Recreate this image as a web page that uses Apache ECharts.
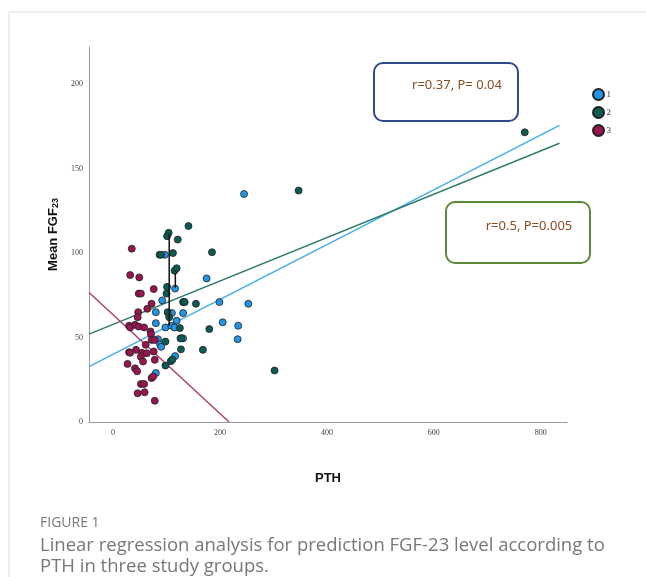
<!DOCTYPE html>
<html>
<head>
<meta charset="utf-8">
<script src="https://cdn.jsdelivr.net/npm/echarts@6/dist/echarts.min.js"></script>
<style>
  html, body { margin: 0; padding: 0; background: #fff; }
  #main { width: 646px; height: 577px; }
</style>
</head>
<body>
<div id="main"></div>
<script>
// group 1 (blue)
var g1X = [245, 175, 97, 116, 92, 80, 80, 98, 109, 115, 119, 110, 131, 132, 199, 205, 234, 233, 253, 84, 88, 90, 80, 116, 126, 131];
var g1Y = [135, 85, 99, 79, 72, 65, 58.5, 56, 57, 56, 60, 64.5, 64.5, 71, 71, 59, 57, 49, 70, 49, 46, 44.5, 29, 39, 49.5, 49.5];
// group 2 (green)
var g2X = [347, 302, 770, 141, 104, 101, 121, 112, 87, 90, 185, 115, 119, 101, 100, 131, 155, 102, 125, 180, 128, 98, 127, 168, 98, 108, 111, 134, 105];
var g2Y = [137, 30.5, 171.5, 116, 112, 110, 108, 100, 99, 99, 100.5, 89.6, 91, 80, 76, 71, 70, 65, 55.6, 55, 49.6, 47.6, 43, 42.7, 33.4, 36, 37, 71, 62];
// group 3 (red)
var g3X = [35, 32, 49, 48, 52, 76, 72, 47, 46, 64, 30, 32, 41, 48, 58, 70, 71, 72, 61, 78, 30, 32, 43, 54, 63, 52, 76, 27, 41, 45, 56, 78, 72, 75, 52, 58, 46, 59, 78];
var g3Y = [102.6, 87, 85.6, 76, 76, 78.7, 70, 65, 62, 67, 57, 56, 57.5, 56.5, 56, 53.6, 52, 48.6, 45.7, 48.5, 41.3, 41, 42.7, 41, 40.7, 38.7, 41.7, 34.4, 31.8, 30, 35.8, 36.8, 26, 27, 22.5, 22.5, 17, 17.6, 12.6];

// fit lines (end points)
var fit1X = [-45, 835], fit1Y = [32.8, 175.6];
var fit2X = [-45, 835], fit2Y = [52, 165];
var fit3X = [-45, 217], fit3Y = [76.7, 0];

// black drop segments
var seg1X = [105, 105], seg1Y = [57, 111];
var seg2X = [116.5, 116.5], seg2Y = [79.5, 88];

var xTicks = [0, 200, 400, 600, 800];
var yTicks = [0, 50, 100, 150, 200];
var groupNames = ['1', '2', '3'];
var stats = ['r=0.37, P= 0.04', 'r=0.5, P=0.005'];

function pairs(xs, ys) {
	return xs.map(function(x, i) { return [x, ys[i]]; });
}

var markerColors = ['#2394e6', '#0b5b53', '#981650'];
var lineColors = ['#47ade9', '#2f7b6b', '#b13f6d'];

var myChart = echarts.init(document.getElementById('main'));

var tickFont = {
	fontFamily: 'Liberation Serif',
	fontSize: 8,
	color: '#444'
};

var option = {
	animation: false,
	grid: { left: 89, right: 79, top: 47, bottom: 155 },
	xAxis: {
		type: 'value',
		min: -45,
		max: 849,
		name: 'PTH',
		nameLocation: 'middle',
		nameGap: 50,
		nameTextStyle: { fontFamily: 'Liberation Sans', fontSize: 13, fontWeight: 'bold', color: '#111' },
		axisLine: { show: true, onZero: false, lineStyle: { color: '#999', width: 1 } },
		axisTick: { show: false },
		splitLine: { show: false },
		axisLabel: Object.assign({ customValues: xTicks, margin: 7 }, tickFont)
	},
	yAxis: {
		type: 'value',
		min: 0,
		max: 222,
		name: '{a|Mean FGF}{b|23}',
		nameLocation: 'middle',
		nameGap: 25,
		nameTextStyle: {
			rich: {
				a: { fontFamily: 'Liberation Sans', fontSize: 13, fontWeight: 'bold', color: '#111' },
				b: { fontFamily: 'Liberation Sans', fontSize: 9, fontWeight: 'bold', color: '#111', padding: [4, 0, 0, 0] }
			}
		},
		axisLine: { show: true, onZero: false, lineStyle: { color: '#999', width: 1 } },
		axisTick: { show: false },
		splitLine: { show: false },
		axisLabel: Object.assign({ customValues: yTicks, margin: 6 }, tickFont)
	},
	legend: {
		orient: 'vertical',
		left: 587,
		top: 83,
		itemWidth: 12,
		itemHeight: 11,
		itemGap: 5,
		icon: 'circle',
		data: groupNames,
		textStyle: { fontFamily: 'Liberation Serif', fontSize: 9, color: '#333', padding: [0, 0, 0, -3] }
	},
	graphic: [
		// card frame
		{ type: 'line', shape: { x1: 9, y1: 12, x2: 646, y2: 12 }, style: { stroke: '#dcdcdc', lineWidth: 1 } },
		{ type: 'line', shape: { x1: 9, y1: 12, x2: 9, y2: 577 }, style: { stroke: '#dcdcdc', lineWidth: 1 } },
		// stats boxes
		{ type: 'rect', shape: { x: 374, y: 63, width: 144, height: 58, r: 9 }, style: { fill: 'none', stroke: '#2e4a8c', lineWidth: 2 } },
		{ type: 'text', x: 457, y: 85, style: { text: stats[0], fill: '#8a4a24', font: '13px "Noto Sans"', textAlign: 'center', textVerticalAlign: 'middle' } },
		{ type: 'rect', shape: { x: 446, y: 202, width: 144, height: 61, r: 9 }, style: { fill: 'none', stroke: '#5a8a3a', lineWidth: 2 } },
		{ type: 'text', x: 529, y: 226, style: { text: stats[1], fill: '#8a4a24', font: '13px "Noto Sans"', textAlign: 'center', textVerticalAlign: 'middle' } },
		// caption
		{ type: 'text', left: 40, top: 516, style: { text: 'FIGURE 1', fill: '#777', font: '14px "Open Sans"' } },
		{ type: 'text', left: 40, top: 535, style: { text: 'Linear regression analysis for prediction FGF-23 level according to\nPTH in three study groups.', fill: '#777', font: '18.5px "Open Sans"', lineHeight: 21 } }
	],
	series: [
		{ name: 'fit1', type: 'line', data: pairs(fit1X, fit1Y), showSymbol: false, lineStyle: { color: lineColors[0], width: 1.5 }, z: 2, silent: true },
		{ name: 'fit2', type: 'line', data: pairs(fit2X, fit2Y), showSymbol: false, lineStyle: { color: lineColors[1], width: 1.5 }, z: 2, silent: true },
		{ name: 'fit3', type: 'line', data: pairs(fit3X, fit3Y), showSymbol: false, lineStyle: { color: lineColors[2], width: 1.5 }, z: 2, silent: true },
		{ name: '1', type: 'scatter', data: pairs(g1X, g1Y), symbolSize: 7, itemStyle: { color: markerColors[0], borderColor: '#222', borderWidth: 0.8, opacity: 1 }, z: 3 },
		{ name: '2', type: 'scatter', data: pairs(g2X, g2Y), symbolSize: 7, itemStyle: { color: markerColors[1], borderColor: '#222', borderWidth: 0.8, opacity: 1 }, z: 3 },
		{ name: '3', type: 'scatter', data: pairs(g3X, g3Y), symbolSize: 7, itemStyle: { color: markerColors[2], borderColor: '#222', borderWidth: 0.8, opacity: 1 }, z: 3 },
		{ name: 'seg1', type: 'line', data: pairs(seg1X, seg1Y), showSymbol: false, lineStyle: { color: '#111', width: 1.5 }, z: 4, silent: true },
		{ name: 'seg2', type: 'line', data: pairs(seg2X, seg2Y), showSymbol: false, lineStyle: { color: '#111', width: 1.5 }, z: 4, silent: true }
	]
};
myChart.setOption(option);
</script>
</body>
</html>
